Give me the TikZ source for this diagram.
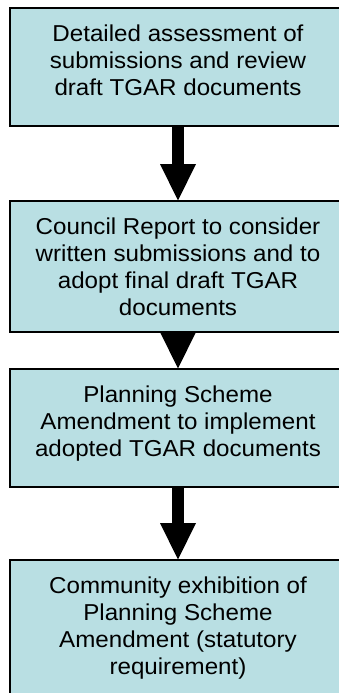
\documentclass[tikz,border=0pt]{standalone}
\usepackage{fontspec}
\setmainfont{Liberation Sans}[FakeStretch=1.05]
\usetikzlibrary{arrows.meta}
\definecolor{stepfill}{RGB}{185,223,227}
\begin{document}
\begin{tikzpicture}[x=1pt,y=1pt,
  stepbox/.style={draw=black, line width=2pt, fill=stepfill, rectangle,
    inner sep=0pt, outer sep=0pt, minimum width=336pt, anchor=north west},
  steptext/.style={anchor=north, inner sep=0pt, outer sep=0pt, align=center,
    font=\fontsize{23pt}{27pt}\selectfont},
  bigarrow/.style={draw=black, line width=12pt,
    -{Triangle[length=36.5pt, width=36pt, line width=0pt]}}]
  \clip (0,0) rectangle (339,-693);
  \fill[white] (0,0) rectangle (339,-693);

  % the four process steps
  \node[stepbox, minimum height=118pt]   (b1) at (10,-8) {};
  \node[stepbox, minimum height=131pt]   (b2) at (10,-200.5) {};
  \node[stepbox, minimum height=118.5pt] (b3) at (10,-368.5) {};
  \node[stepbox, minimum height=150pt]   (b4) at (10,-559.5) {};

  \node[steptext] (t1) at ([yshift=-17pt]b1.north)
    {Detailed assessment of\\submissions and review\\draft TGAR documents};
  \node[steptext] (t2) at ([yshift=-17pt]b2.north)
    {Council Report to consider\\written submissions and to\\adopt final draft TGAR\\documents};
  \node[steptext] (t3) at ([yshift=-17pt]b3.north)
    {Planning Scheme\\Amendment to implement\\adopted TGAR documents};
  \node[steptext] (t4) at ([yshift=-17pt]b4.north)
    {Community exhibition of\\Planning Scheme\\Amendment (statutory\\requirement)};

  % flow arrows between steps
  \draw[bigarrow] (b1.south) -- (b2.north);
  \draw[bigarrow] (b2.south) -- (b3.north);
  \draw[bigarrow] (b3.south) -- (b4.north);
\end{tikzpicture}
\end{document}
